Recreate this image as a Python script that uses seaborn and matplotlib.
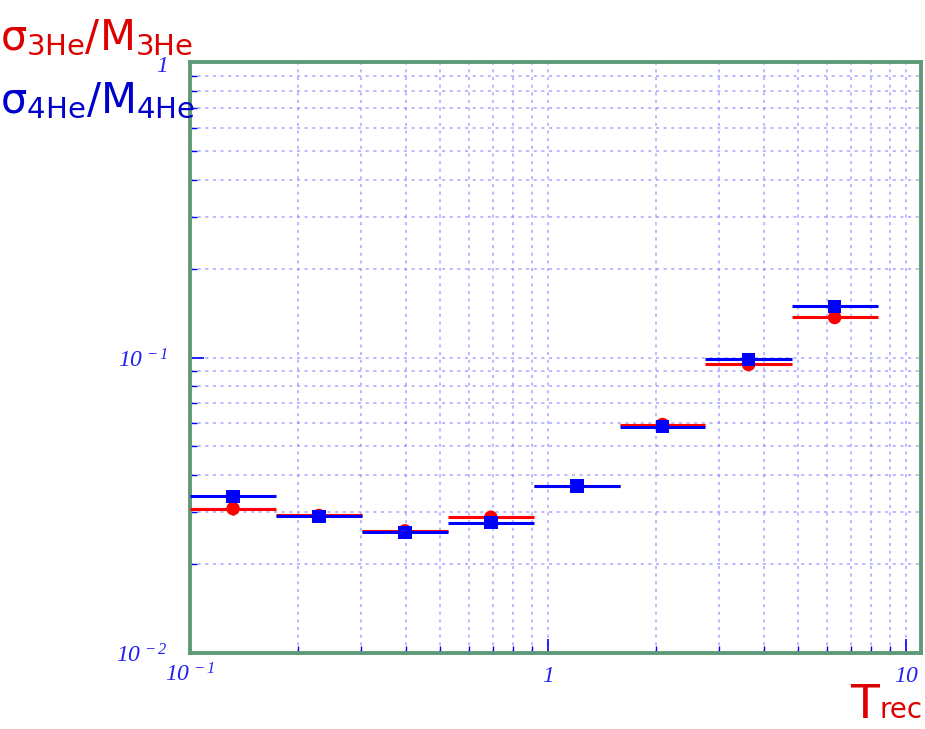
import numpy as np
import pandas as pd
import matplotlib
matplotlib.use("Agg")
import matplotlib.pyplot as plt
import seaborn as sns
from matplotlib.ticker import FixedLocator, FixedFormatter, NullFormatter

# ---- data ----
bin_edges = [0.1, 0.174, 0.302, 0.525, 0.912, 1.585, 2.75, 4.79, 8.32]
ratio_3he = [0.0308, 0.0292, 0.0259, 0.0288, 0.0368, 0.0593, 0.0947, 0.1366]
ratio_4he = [0.0339, 0.0290, 0.0256, 0.0276, 0.0368, 0.0584, 0.0985, 0.1490]
yerr_3he = [0.0014, 0, 0, 0, 0, 0, 0, 0]
x_ticks = [0.1, 1, 10]
x_ticklabels = [r"$10^{\,-1}$", r"$1$", r"$10$"]
y_ticks = [0.01, 0.1, 1]
y_ticklabels = [r"$10^{\,-2}$", r"$10^{\,-1}$", r"$1$"]

edges = np.array(bin_edges)
lo, hi = edges[:-1], edges[1:]
centers = np.sqrt(lo * hi)

df = pd.DataFrame({
    "Trec": np.concatenate([centers, centers]),
    "ratio": np.concatenate([ratio_3he, ratio_4he]),
    "series": ["3He"] * len(centers) + ["4He"] * len(centers),
})

sns.set_theme(style="white")
plt.rcParams["mathtext.fontset"] = "custom"
plt.rcParams["mathtext.rm"] = "Liberation Serif:italic"
plt.rcParams["mathtext.it"] = "Liberation Serif:italic"
plt.rcParams["mathtext.bf"] = "Liberation Serif:italic:bold"
plt.rcParams["mathtext.default"] = "it"

fig = plt.figure(figsize=(9.25, 7.29), dpi=100)
ax = fig.add_axes([190 / 925, 1 - 653 / 729, (921 - 190) / 925, (653 - 62) / 729])
ax.set_xscale("log")
ax.set_yscale("log")
ax.set_xlim(0.1, 11)
ax.set_ylim(0.01, 1)

red = "#ff0000"
blue = "#0000ff"

# horizontal bin lines
ax.hlines(ratio_3he, lo, hi, color=red, lw=2.2, zorder=3)
ax.vlines(centers, np.array(ratio_3he) - np.array(yerr_3he),
          np.array(ratio_3he) + np.array(yerr_3he), color=red, lw=2.2, zorder=3)
ax.hlines(ratio_4he, lo, hi, color=blue, lw=2.2, zorder=4)

sns.scatterplot(data=df[df.series == "3He"], x="Trec", y="ratio", color=red,
                marker="o", s=95, edgecolor="none", ax=ax, zorder=5, legend=False)
sns.scatterplot(data=df[df.series == "4He"], x="Trec", y="ratio", color=blue,
                marker="s", s=95, edgecolor="none", ax=ax, zorder=6, legend=False)

# grid
ax.grid(True, which="both", color="#8888ff", linestyle=(0, (2, 3)), lw=1.1, alpha=0.75)
ax.set_axisbelow(True)

for s in ax.spines.values():
    s.set_color("#5f9a78")
    s.set_linewidth(2.8)

ax.xaxis.set_major_locator(FixedLocator(x_ticks))
ax.xaxis.set_major_formatter(FixedFormatter(x_ticklabels))
ax.xaxis.set_minor_formatter(NullFormatter())
ax.yaxis.set_major_locator(FixedLocator(y_ticks))
ax.yaxis.set_major_formatter(FixedFormatter(y_ticklabels))
ax.yaxis.set_minor_formatter(NullFormatter())
ax.tick_params(which="major", direction="in", length=10, width=1.2, color=blue,
               labelcolor="#2222ee", labelsize=17, bottom=True, left=True)
ax.tick_params(which="minor", direction="in", length=5, width=1.0, color=blue,
               bottom=True, left=True)
ax.tick_params(axis="x", pad=7)
ax.tick_params(axis="y", pad=16)
ax.set_xlabel("")
ax.set_ylabel("")

fig.text(0.0, 1 - 50 / 729, r"σ$_{\mathregular{3He}}$/M$_{\mathregular{3He}}$", color="#dd0000",
         fontsize=30, ha="left", va="baseline", family="DejaVu Sans")
fig.text(0.0, 1 - 113 / 729, r"σ$_{\mathregular{4He}}$/M$_{\mathregular{4He}}$", color="#0000cc",
         fontsize=30, ha="left", va="baseline", family="DejaVu Sans")
fig.text(850 / 925, 1 - 718 / 729, "T", color="#dd0000", fontsize=34,
         ha="left", va="baseline", family="DejaVu Sans")
fig.text(879 / 925, 1 - 718 / 729, "rec", color="#dd0000", fontsize=20,
         ha="left", va="baseline", family="DejaVu Sans")

fig.savefig("out.png", dpi=100)
